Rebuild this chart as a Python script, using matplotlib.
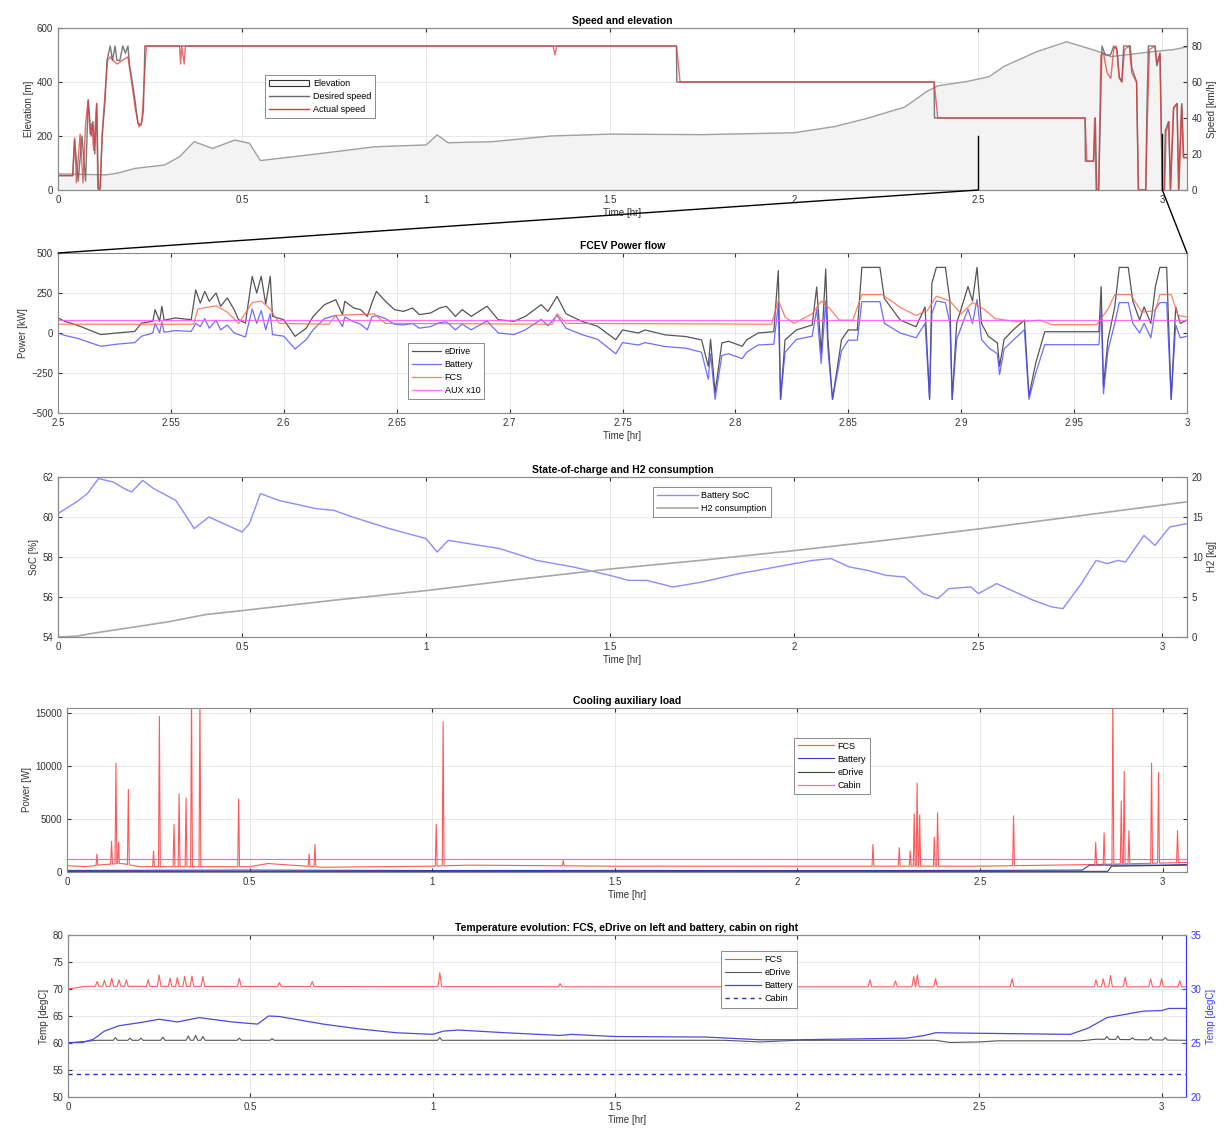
import numpy as np
import matplotlib
matplotlib.use("Agg")
import matplotlib.pyplot as plt
from matplotlib.patches import ConnectionPatch, Patch
from matplotlib.lines import Line2D
from matplotlib.ticker import FuncFormatter

plt.rcParams["font.family"] = ["Liberation Sans", "DejaVu Sans"]
plt.rcParams["font.size"] = 7

# ---------------- data ----------------
# Speed and elevation
elev_t = [0, 0.13, 0.16, 0.21, 0.29, 0.33, 0.37, 0.42, 0.48, 0.52, 0.55, 0.7, 0.86, 1.0, 1.03, 1.06,
          1.18, 1.34, 1.5, 1.75, 2.0, 2.11, 2.2, 2.3, 2.36, 2.39, 2.47, 2.53, 2.57, 2.66, 2.74, 2.81,
          2.84, 2.86, 2.97, 3.03, 3.067]
elev_m = [60, 56, 62, 80, 93, 123, 179, 154, 185, 173, 109, 133, 160, 167, 204, 175,
          179, 200, 207, 205, 212, 235, 266, 307, 365, 386, 402, 420, 458, 513, 549, 520,
          506, 494, 512, 520, 530]

des_t = [0, 0.04, 0.045, 0.055, 0.065, 0.075, 0.082, 0.09, 0.095, 0.1, 0.105, 0.11, 0.114, 0.12,
         0.128, 0.133, 0.142, 0.148, 0.155, 0.16, 0.168, 0.176, 0.183, 0.19, 0.194, 0.208, 0.217,
         0.226, 0.232, 0.236, 1.68, 1.681, 2.38, 2.381, 2.79, 2.791, 2.813, 2.818, 2.822, 2.827,
         2.836, 2.845, 2.859, 2.868, 2.877, 2.883, 2.89, 2.895, 2.913, 2.917, 2.93, 2.935, 2.955,
         2.958, 2.962, 2.98, 2.985, 2.994, 3.0, 3.005, 3.008, 3.017, 3.022, 3.031, 3.04, 3.044,
         3.053, 3.058, 3.067]
des_v = [8, 8, 28, 5, 30, 5, 50, 30, 38, 20, 48, 0, 0, 30,
         50, 72, 80, 72, 80, 72, 72, 80, 76, 80, 70, 52, 37,
         36, 44, 80, 80, 60, 60, 40, 40, 16, 16, 40, 0, 0,
         80, 75, 75, 80, 78, 63, 60, 80, 80, 68, 60, 0, 0,
         43, 80, 80, 69, 76, 0, 0, 33, 38, 0, 46, 48, 0,
         48, 18, 18]

act_t = [0, 0.04, 0.045, 0.05, 0.06, 0.068, 0.075, 0.082, 0.087, 0.092, 0.097, 0.105, 0.108, 0.115,
         0.12, 0.125, 0.13, 0.135, 0.142, 0.15, 0.16, 0.175, 0.19, 0.2, 0.21, 0.22, 0.228, 0.234,
         0.24, 0.33, 0.333, 0.336, 0.343, 0.346, 1.345, 1.35, 1.355, 1.68, 1.69, 2.38, 2.39, 2.79,
         2.795, 2.813, 2.816, 2.82, 2.827, 2.833, 2.84, 2.85, 2.86, 2.868, 2.875, 2.883, 2.89, 2.897,
         2.91, 2.917, 2.93, 2.935, 2.955, 2.96, 2.965, 2.98, 2.986, 2.993, 3.0, 3.006, 3.01, 3.018,
         3.022, 3.03, 3.04, 3.045, 3.052, 3.057, 3.067]
act_v = [8, 8, 29, 4, 31, 4, 37, 50, 31, 37, 22, 48, 1, 1,
         31, 46, 60, 72, 74, 72, 70, 72, 74, 60, 45, 35, 38, 60,
         80, 80, 70, 80, 70, 80, 80, 75, 80, 80, 60, 60, 40, 40,
         16, 16, 40, 0, 0, 75, 76, 65, 62, 78, 80, 62, 60, 78,
         80, 65, 60, 0, 0, 45, 78, 80, 70, 76, 0, 0, 32, 38,
         0, 45, 48, 0, 47, 18, 18]

# FCEV power flow (zoom 2.5 - 3 hr)
pow_t = [2.500, 2.503, 2.509, 2.519, 2.526, 2.534, 2.537, 2.542, 2.543, 2.545,
         2.546, 2.547, 2.552, 2.559, 2.561, 2.563, 2.565, 2.567, 2.570, 2.572,
         2.575, 2.578, 2.580, 2.583, 2.586, 2.588, 2.590, 2.592, 2.594, 2.595,
         2.600, 2.605, 2.610, 2.613, 2.618, 2.623, 2.626, 2.627, 2.631, 2.634,
         2.637, 2.639, 2.641, 2.645, 2.649, 2.653, 2.657, 2.660, 2.665, 2.669,
         2.672, 2.676, 2.679, 2.683, 2.690, 2.695, 2.702, 2.707, 2.714, 2.717,
         2.721, 2.725, 2.732, 2.739, 2.747, 2.750, 2.757, 2.760, 2.769, 2.778,
         2.785, 2.788, 2.789, 2.791, 2.794, 2.797, 2.803, 2.805, 2.810, 2.817,
         2.819, 2.820, 2.822, 2.827, 2.834, 2.836, 2.838, 2.840, 2.841, 2.843,
         2.847, 2.850, 2.854, 2.856, 2.864, 2.866, 2.873, 2.880, 2.884, 2.886,
         2.887, 2.889, 2.893, 2.895, 2.896, 2.898, 2.903, 2.905, 2.907, 2.909,
         2.912, 2.916, 2.917, 2.919, 2.923, 2.928, 2.930, 2.933, 2.937, 2.961,
         2.962, 2.963, 2.965, 2.968, 2.970, 2.974, 2.976, 2.979, 2.981, 2.984,
         2.986, 2.988, 2.991, 2.993, 2.995, 2.997, 3.000]
edrive_kw = [94, 73, 46, -10, 0, 10, 62, 73, 146, 73,
             167, 80, 94, 83, 270, 187, 260, 198, 250, 167,
             219, 146, 83, 62, 354, 250, 354, 180, 354, 104,
             83, -21, 31, 104, 177, 208, 115, 198, 156, 146,
             104, 187, 260, 198, 146, 135, 156, 115, 125, 156,
             167, 104, 146, 104, 167, 83, 73, 104, 177, 135,
             229, 120, 73, 42, -42, 19, 0, 19, -12, -22,
             -43, -208, -40, -372, -62, -52, -83, -43, 0, 8,
             390, -415, -43, 19, 50, 287, -126, 400, -42, -415,
             -42, 19, 19, 410, 410, 215, 81, 39, 163, -415,
             310, 410, 410, 200, -415, 60, 290, 200, 410, 60,
             -20, -62, -208, -40, 19, 81, -393, -188, 8, 8,
             290, -333, -42, 163, 410, 410, 200, 81, 163, 60,
             290, 410, 410, -415, 163, 60, 81]
battery_kw = [0, -15, -35, -83, -70, -60, -20, 0, 60, 0,
              70, 5, 15, 10, 60, 40, 90, 30, 80, 20,
              50, 0, -10, -25, 150, 60, 140, 20, 120, -10,
              -20, -100, -40, 20, 90, 110, 40, 100, 70, 55,
              20, 100, 110, 90, 55, 50, 60, 30, 40, 65,
              70, 20, 55, 20, 75, 0, -10, 20, 85, 45,
              110, 30, -10, -40, -130, -60, -75, -60, -85, -95,
              -120, -290, -130, -415, -140, -130, -160, -120, -75, -70,
              180, -415, -120, -40, -20, 150, -190, 200, -110, -415,
              -110, -45, -45, 196, 196, 60, 0, -30, 60, -415,
              120, 200, 190, 60, -415, -40, 150, 60, 210, -40,
              -90, -130, -260, -100, -45, 20, -415, -250, -73, -73,
              160, -380, -110, 60, 190, 190, 60, 0, 60, -30,
              150, 190, 190, -415, 50, -30, -20]
fcs_t = [2.500, 2.560, 2.562, 2.570, 2.575, 2.580, 2.586, 2.590, 2.594, 2.598,
         2.620, 2.623, 2.640, 2.645, 2.719, 2.721, 2.725, 2.816, 2.819, 2.822,
         2.826, 2.834, 2.838, 2.842, 2.846, 2.852, 2.856, 2.865, 2.873, 2.880,
         2.885, 2.889, 2.895, 2.900, 2.905, 2.910, 2.915, 2.925, 2.935, 2.940,
         2.960, 2.965, 2.968, 2.975, 2.980, 2.986, 2.988, 2.993, 2.996, 3.000]
fcs_kw = [55, 55, 150, 170, 130, 60, 190, 200, 150, 60,
          55, 110, 120, 60, 55, 120, 60, 55, 205, 100,
          60, 120, 200, 150, 80, 80, 240, 240, 160, 110,
          140, 230, 200, 120, 190, 150, 90, 70, 80, 52,
          52, 150, 240, 240, 130, 140, 240, 240, 110, 100]
aux_t = [2.5, 3.0]
aux_x10_kw = [83, 83]

# State of charge and H2
soc_t = [0, 0.05, 0.08, 0.11, 0.15, 0.18, 0.2, 0.23, 0.26, 0.32, 0.37, 0.41, 0.5, 0.52, 0.55,
         0.6, 0.7, 0.75, 0.8, 0.9, 1.0, 1.03, 1.06, 1.2, 1.3, 1.4, 1.5, 1.55, 1.6, 1.67,
         1.75, 1.85, 1.9, 2.0, 2.05, 2.1, 2.15, 2.2, 2.25, 2.3, 2.35, 2.39, 2.42, 2.48, 2.5,
         2.55, 2.6, 2.65, 2.7, 2.73, 2.78, 2.82, 2.85, 2.88, 2.9, 2.95, 2.98, 3.02, 3.067]
soc_pct = [60.17, 60.75, 61.17, 61.92, 61.75, 61.42, 61.25, 61.83, 61.42, 60.83, 59.42, 60.0, 59.25, 59.67, 61.17,
           60.83, 60.42, 60.33, 60.0, 59.42, 58.92, 58.25, 58.83, 58.42, 57.83, 57.5, 57.08, 56.83, 56.83, 56.5,
           56.75, 57.17, 57.33, 57.67, 57.83, 57.92, 57.5, 57.33, 57.08, 57.0, 56.17, 55.92, 56.42, 56.5, 56.17,
           56.67, 56.25, 55.83, 55.5, 55.42, 56.67, 57.83, 57.67, 57.83, 57.75, 59.08, 58.58, 59.5, 59.67]
h2_t = [0, 0.05, 0.1, 0.2, 0.3, 0.4, 0.5, 0.75, 1.0, 1.25, 1.5, 1.75, 2.0, 2.25, 2.5, 2.75, 3.0, 3.067]
h2_kg = [0, 0.1, 0.5, 1.2, 1.9, 2.8, 3.3, 4.6, 5.8, 7.2, 8.5, 9.6, 10.8, 12.1, 13.5, 15.0, 16.5, 16.9]

# Cooling auxiliary load
cool_fcs_base_t = [0, 0.05, 0.1, 0.15, 0.2, 0.3, 0.5, 0.55, 0.7, 1.0, 1.1, 1.5, 2.0, 2.5, 2.8, 3.067]
cool_fcs_base_w = [600, 500, 700, 800, 500, 500, 500, 800, 450, 550, 650, 550, 550, 550, 700, 900]
cool_fcs_spike_t = [0.082, 0.122, 0.134, 0.141, 0.168, 0.237, 0.253, 0.293, 0.307, 0.326,
                    0.341, 0.364, 0.47, 0.663, 0.679, 1.011, 1.03, 1.359, 2.207, 2.279,
                    2.309, 2.32, 2.328, 2.335, 2.375, 2.384, 2.592, 2.817, 2.84, 2.864,
                    2.887, 2.895, 2.908, 2.97, 2.989, 3.041]
cool_fcs_spike_w = [1700, 2900, 10300, 2800, 7800, 2000, 14700, 4500, 7400, 7000,
                    16500, 16500, 6900, 1700, 2600, 4500, 14200, 1100, 2600, 2300,
                    2000, 5500, 8400, 5400, 3300, 5600, 5300, 2800, 3700, 16500,
                    6700, 9500, 3900, 10300, 9400, 3900]
cool_bat_t = [0, 0.5, 1.0, 1.5, 2.0, 2.5, 2.78, 2.8, 3.0, 3.067]
cool_bat_w = [150, 180, 140, 150, 140, 150, 180, 650, 650, 700]
cool_edr_t = [0, 1.0, 2.0, 2.85, 2.86, 3.067]
cool_edr_w = [60, 60, 60, 60, 550, 650]
cool_cab_t = [0, 3.067]
cool_cab_w = [1250, 1250]

# Temperatures
fcs_temp_base_t = [0, 0.05, 1.5, 2.5, 3.067]
fcs_temp_base_c = [70.0, 70.5, 70.4, 70.4, 70.4]
fcs_temp_bump_t = [0.08, 0.1, 0.12, 0.14, 0.16, 0.22, 0.25, 0.28, 0.3, 0.32, 0.34, 0.37, 0.47,
                   0.58, 0.67, 1.02, 1.35, 2.2, 2.27, 2.32, 2.33, 2.38, 2.59, 2.82, 2.84, 2.86,
                   2.9, 2.97, 3.0, 3.05]
fcs_temp_bump_c = [71.4, 71.6, 72.0, 71.7, 71.7, 71.7, 72.6, 72.0, 72.1, 72.3, 72.4, 72.3, 72.0,
                   71.2, 71.4, 73.0, 71.0, 71.7, 71.5, 72.3, 72.6, 71.9, 71.9, 71.7, 71.9, 72.5,
                   72.2, 71.9, 71.9, 71.5]
edr_temp_base_t = [0, 0.08, 1.8, 1.9, 2.0, 2.38, 2.42, 2.5, 2.55, 2.78, 2.82, 3.067]
edr_temp_base_c = [60.0, 60.5, 60.5, 60.2, 60.5, 60.5, 60.1, 60.2, 60.4, 60.4, 60.7, 60.5]
edr_temp_bump_t = [0.13, 0.17, 0.2, 0.26, 0.33, 0.35, 0.37, 0.47, 0.56, 1.02, 2.85, 2.88, 2.92, 2.97, 3.01]
edr_temp_bump_c = [61.0, 60.9, 60.9, 61.1, 61.3, 61.4, 61.2, 60.9, 60.8, 61.0, 61.2, 61.3, 61.0, 61.1, 61.0]
bat_temp_t = [0, 0.04, 0.07, 0.1, 0.14, 0.2, 0.25, 0.3, 0.36, 0.45, 0.52, 0.55, 0.58, 0.7, 0.8,
              0.9, 1.0, 1.03, 1.07, 1.2, 1.35, 1.38, 1.5, 1.75, 1.9, 2.0, 2.3, 2.35, 2.38, 2.5,
              2.75, 2.8, 2.85, 2.9, 2.95, 3.0, 3.02, 3.067]
bat_temp_c = [25.05, 25.05, 25.35, 26.1, 26.6, 26.9, 27.2, 26.95, 27.35, 26.95, 26.75, 27.5, 27.45, 26.75, 26.3,
              25.95, 25.8, 26.1, 26.2, 25.95, 25.7, 25.8, 25.6, 25.55, 25.3, 25.3, 25.45, 25.7, 25.95, 25.9,
              25.8, 26.4, 27.35, 27.65, 27.95, 28.0, 28.2, 28.2]
cab_temp_t = [0, 3.067]
cab_temp_c = [22.1, 22.1]


def with_spikes(base_t, base_v, sp_t, sp_v, w):
    # put narrow triangles on top of a baseline
    t = list(base_t)
    v = list(base_v)
    for ts, pk in zip(sp_t, sp_v):
        b = np.interp([ts - w, ts + w], base_t, base_v)
        t += [ts - w, ts, ts + w]
        v += [b[0], pk, b[1]]
    order = np.argsort(t, kind="stable")
    return np.array(t)[order], np.array(v)[order]


W, H = 1231, 1133


def rect(l, t, r, b):
    return [l / W, 1 - b / H, (r - l) / W, (b - t) / H]


gfmt = FuncFormatter(lambda x, p: "%g" % x)
tcol = "#333333"


def style(ax, mirror=True):
    ax.grid(True, color="#e4e4e4", lw=0.6)
    ax.set_axisbelow(True)
    ax.tick_params(direction="in", length=3, labelsize=7, colors=tcol, top=True, right=mirror)
    for s in ax.spines.values():
        s.set_color("#8a8a8a")
        s.set_linewidth(0.8)
    ax.xaxis.set_major_formatter(gfmt)


def legend(ax, handles, labels, x, ytop, hl=4.0):
    lg = ax.legend(handles, labels, loc="upper left", bbox_to_anchor=(x, ytop), fontsize=6.5,
                   frameon=True, fancybox=False, framealpha=1, edgecolor="#8a8a8a",
                   handlelength=hl, borderpad=0.45, labelspacing=0.45, handletextpad=0.4,
                   borderaxespad=0)
    lg.get_frame().set_linewidth(0.7)
    lg.set_zorder(20)
    return lg


fig = plt.figure(figsize=(W / 100, H / 100), dpi=100)
fig.patch.set_facecolor("white")
xmax = 3.067
title_kw = dict(fontsize=7.5, fontweight="bold", pad=3)

# ---------- panel 1: speed and elevation ----------
ax1 = fig.add_axes(rect(58, 28, 1187, 190))
style(ax1, mirror=False)
ax1.fill_between(elev_t, 0, elev_m, facecolor="#f3f3f3", edgecolor="none", zorder=1)
ax1.plot(elev_t, elev_m, color="#a0a0a0", lw=1.0, zorder=2)
ax1.set_xlim(0, xmax)
ax1.set_ylim(0, 600)
ax1.set_yticks([0, 200, 400, 600])
ax1.set_xticks(np.arange(0, 3.01, 0.5))
ax1.set_ylabel("Elevation [m]", fontsize=7, color=tcol, labelpad=2)
ax1.set_xlabel("Time [hr]", fontsize=7, color=tcol, labelpad=2)
ax1.set_title("Speed and elevation", **title_kw)
ax1r = ax1.twinx()
ax1r.plot(des_t, des_v, color="#6a6a6a", lw=1.0, alpha=0.9)
ax1r.plot(act_t, act_v, color="#e23a3a", lw=1.0, alpha=0.75)
ax1r.set_ylim(0, 90)
ax1r.set_yticks([0, 20, 40, 60, 80])
ax1r.tick_params(direction="in", length=3, labelsize=7, colors=tcol)
ax1r.set_ylabel("Speed [km/h]", fontsize=7, color=tcol, labelpad=3)
for s in ax1r.spines.values():
    s.set_color("#8a8a8a")
    s.set_linewidth(0.8)
# zoom markers
ax1r.plot([2.5, 2.5], [0, 30], color="k", lw=1.0)
ax1r.plot([3.0, 3.0], [0, 31], color="k", lw=1.0)
legend(ax1r,
       [Patch(facecolor="#f7f7f7", edgecolor="#333333", lw=0.8),
        Line2D([], [], color="#6a6a6a", lw=1.0),
        Line2D([], [], color="#e23a3a", lw=1.0)],
       ["Elevation", "Desired speed", "Actual speed"], 0.183, 0.71, hl=4.5)

# ---------- panel 2: power flow ----------
ax2 = fig.add_axes(rect(58, 253, 1187, 413))
style(ax2)
ax2.plot(pow_t, edrive_kw, color="#555555", lw=0.9, label="eDrive")
ax2.plot(pow_t, battery_kw, color="#4a4aff", lw=0.9, alpha=0.8, label="Battery")
ax2.plot(fcs_t, fcs_kw, color="#ff6a4a", lw=0.9, alpha=0.85, label="FCS")
ax2.plot(aux_t, aux_x10_kw, color="#ff55ff", lw=0.9, alpha=0.85, label="AUX x10")
ax2.set_xlim(2.5, 3.0)
ax2.set_ylim(-500, 500)
ax2.set_yticks([-500, -250, 0, 250, 500])
ax2.set_xticks(np.round(np.arange(2.5, 3.001, 0.05), 2))
ax2.set_ylabel("Power [kW]", fontsize=7, color=tcol, labelpad=2)
ax2.set_xlabel("Time [hr]", fontsize=7, color=tcol, labelpad=2)
ax2.set_title("FCEV Power flow", **title_kw)
h2, l2 = ax2.get_legend_handles_labels()
legend(ax2, h2, l2, 0.31, 0.44, hl=3.2)

for xa, xb in [(2.5, 2.5), (3.0, 3.0)]:
    con = ConnectionPatch(xyA=(xa, 0), coordsA=ax1r.transData, xyB=(xb, 500),
                          coordsB=ax2.transData, color="k", lw=1.0)
    fig.add_artist(con)

# ---------- panel 3: SoC and H2 ----------
ax3 = fig.add_axes(rect(58, 477, 1187, 637))
style(ax3, mirror=False)
ax3.plot(soc_t, soc_pct, color="#8c8cff", lw=1.0)
ax3.set_xlim(0, xmax)
ax3.set_ylim(54, 62)
ax3.set_yticks([54, 56, 58, 60, 62])
ax3.set_xticks(np.arange(0, 3.01, 0.5))
ax3.set_ylabel("SoC [%]", fontsize=7, color=tcol, labelpad=2)
ax3.set_xlabel("Time [hr]", fontsize=7, color=tcol, labelpad=2)
ax3.set_title("State-of-charge and H2 consumption", **title_kw)
ax3r = ax3.twinx()
ax3r.plot(h2_t, h2_kg, color="#a8a8a8", lw=1.2)
ax3r.set_ylim(0, 20)
ax3r.set_yticks([0, 5, 10, 15, 20])
ax3r.tick_params(direction="in", length=3, labelsize=7, colors=tcol)
ax3r.set_ylabel("H2 [kg]", fontsize=7, color=tcol, labelpad=3)
for s in ax3r.spines.values():
    s.set_color("#8a8a8a")
    s.set_linewidth(0.8)
legend(ax3r, [Line2D([], [], color="#8c8cff", lw=1.0), Line2D([], [], color="#a8a8a8", lw=1.2)],
       ["Battery SoC", "H2 consumption"], 0.527, 0.94, hl=4.5)

# ---------- panel 4: cooling auxiliary load ----------
ax4 = fig.add_axes(rect(67, 708, 1187, 872))
style(ax4)
ct, cv = with_spikes(cool_fcs_base_t, cool_fcs_base_w, cool_fcs_spike_t, cool_fcs_spike_w, 0.0025)
ax4.plot(ct, cv, color="#ff3b3b", lw=0.8, alpha=0.85, label="FCS")
ax4.plot(cool_bat_t, cool_bat_w, color="#3a3ac8", lw=0.8, label="Battery")
ax4.plot(cool_edr_t, cool_edr_w, color="#2f4a2f", lw=0.8, label="eDrive")
ax4.plot(cool_cab_t, cool_cab_w, color="#ff55ff", lw=0.8, label="Cabin")
ax4.set_xlim(0, xmax)
ax4.set_ylim(0, 15500)
ax4.set_yticks([0, 5000, 10000, 15000])
ax4.set_xticks(np.arange(0, 3.01, 0.5))
ax4.set_ylabel("Power [W]", fontsize=7, color=tcol, labelpad=2)
ax4.set_xlabel("Time [hr]", fontsize=7, color=tcol, labelpad=2)
ax4.set_title("Cooling auxiliary load", **title_kw)
h4, l4 = ax4.get_legend_handles_labels()
legend(ax4, h4, l4, 0.649, 0.82, hl=4.0)

# ---------- panel 5: temperatures ----------
ax5 = fig.add_axes(rect(68, 935, 1186, 1097))
style(ax5, mirror=False)
ft, fv = with_spikes(fcs_temp_base_t, fcs_temp_base_c, fcs_temp_bump_t, fcs_temp_bump_c, 0.005)
et, ev = with_spikes(edr_temp_base_t, edr_temp_base_c, edr_temp_bump_t, edr_temp_bump_c, 0.006)
ax5.plot(ft, fv, color="#ff4a4a", lw=0.8, alpha=0.9)
ax5.plot(et, ev, color="#505a50", lw=0.8)
ax5.set_xlim(0, xmax)
ax5.set_ylim(50, 80)
ax5.set_yticks([50, 55, 60, 65, 70, 75, 80])
ax5.set_xticks(np.arange(0, 3.01, 0.5))
ax5.set_ylabel("Temp [degC]", fontsize=7, color=tcol, labelpad=2)
ax5.set_xlabel("Time [hr]", fontsize=7, color=tcol, labelpad=2)
ax5.set_title("Temperature evolution: FCS, eDrive on left and battery, cabin on right", **title_kw)
ax5r = ax5.twinx()
blue = "#3b3bff"
ax5r.plot(bat_temp_t, bat_temp_c, color="#4a4ae0", lw=0.9)
ax5r.plot(cab_temp_t, cab_temp_c, color="#2828c8", lw=1.0, ls=(0, (3, 3)))
ax5r.set_ylim(20, 35)
ax5r.set_yticks([20, 25, 30, 35])
ax5r.tick_params(direction="in", length=3, labelsize=7, colors=blue)
ax5r.set_ylabel("Temp [degC]", fontsize=7, color=blue, labelpad=3)
for s in ax5r.spines.values():
    s.set_color("#8a8a8a")
    s.set_linewidth(0.8)
ax5r.spines["right"].set_color(blue)
legend(ax5r,
       [Line2D([], [], color="#ff4a4a", lw=0.8), Line2D([], [], color="#505a50", lw=0.8),
        Line2D([], [], color="#4a4ae0", lw=0.9), Line2D([], [], color="#2828c8", lw=1.0, ls=(0, (3, 3)))],
       ["FCS", "eDrive", "Battery", "Cabin"], 0.584, 0.9, hl=4.0)

fig.savefig("out.png", dpi=100)
